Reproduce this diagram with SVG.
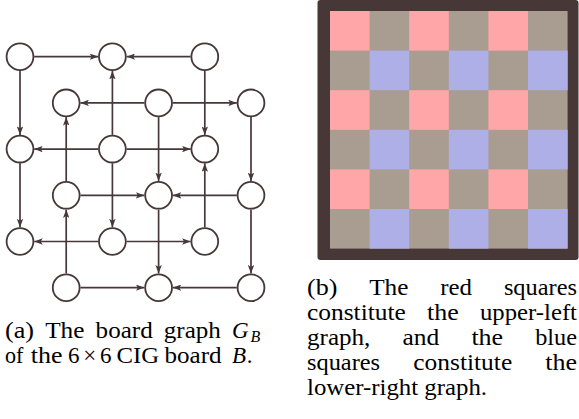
<svg xmlns="http://www.w3.org/2000/svg" width="579" height="419" viewBox="0 0 579 419">
<defs>
<style>
.t{font-family:"Liberation Serif","Times New Roman",serif;font-size:23px;fill:#000}
.m{font-style:italic}
.c{text-anchor:middle}
.node circle{fill:#fff;stroke:#463838;stroke-width:1.8}
#edges path{stroke:#463838;stroke-width:1.7;fill:none;marker-end:url(#ah)}
.pk{fill:#ffa6a8}
.bl{fill:#afafe7}
</style>
<marker id="ah" markerUnits="userSpaceOnUse" markerWidth="8.5" markerHeight="6.4" viewBox="0 0 8.5 6.4" refX="8.5" refY="3.2" orient="auto">
<path d="M0,0 L8.5,3.2 L0,6.4 L1.9,3.2 Z" fill="#463838"/>
</marker>
</defs>
<rect width="579" height="419" fill="#fff"/>

<g id="edges">
<path d="M34.2,56.7 H98.2"/>
<path d="M190.6,56.7 H126.6"/>
<path d="M20,70.9 V134.9"/>
<path d="M112.4,134.9 V70.9"/>
<path d="M204.8,70.9 V134.9"/>
<path d="M144.4,102.9 H80.4"/>
<path d="M172.8,102.9 H236.8"/>
<path d="M66.2,181.1 V117.1"/>
<path d="M158.6,117.1 V181.1"/>
<path d="M251,117.1 V181.1"/>
<path d="M98.2,149.1 H34.2"/>
<path d="M126.6,149.1 H190.6"/>
<path d="M20,163.3 V227.3"/>
<path d="M112.4,163.3 V227.3"/>
<path d="M204.8,227.3 V163.3"/>
<path d="M80.4,195.3 H144.4"/>
<path d="M236.8,195.3 H172.8"/>
<path d="M158.6,209.5 V273.5"/>
<path d="M251,209.5 V273.5"/>
<path d="M98.2,241.5 H34.2"/>
<path d="M126.6,241.5 H190.6"/>
<path d="M80.4,287.7 H144.4"/>
<path d="M236.8,287.7 H172.8"/>
<path d="M66.2,273.5 V209.5"/>
</g>

<g id="n00" class="node"><circle cx="20" cy="56.7" r="13.4"/></g>
<g id="n20" class="node"><circle cx="112.4" cy="56.7" r="13.4"/></g>
<g id="n40" class="node"><circle cx="204.8" cy="56.7" r="13.4"/></g>
<g id="n11" class="node"><circle cx="66.2" cy="102.9" r="13.4"/></g>
<g id="n31" class="node"><circle cx="158.6" cy="102.9" r="13.4"/></g>
<g id="n51" class="node"><circle cx="251" cy="102.9" r="13.4"/></g>
<g id="n02" class="node"><circle cx="20" cy="149.1" r="13.4"/></g>
<g id="n22" class="node"><circle cx="112.4" cy="149.1" r="13.4"/></g>
<g id="n42" class="node"><circle cx="204.8" cy="149.1" r="13.4"/></g>
<g id="n13" class="node"><circle cx="66.2" cy="195.3" r="13.4"/></g>
<g id="n33" class="node"><circle cx="158.6" cy="195.3" r="13.4"/></g>
<g id="n53" class="node"><circle cx="251" cy="195.3" r="13.4"/></g>
<g id="n04" class="node"><circle cx="20" cy="241.5" r="13.4"/></g>
<g id="n24" class="node"><circle cx="112.4" cy="241.5" r="13.4"/></g>
<g id="n44" class="node"><circle cx="204.8" cy="241.5" r="13.4"/></g>
<g id="n15" class="node"><circle cx="66.2" cy="287.7" r="13.4"/></g>
<g id="n35" class="node"><circle cx="158.6" cy="287.7" r="13.4"/></g>
<g id="n55" class="node"><circle cx="251" cy="287.7" r="13.4"/></g>

<g id="board">
<rect x="317.5" y="0" width="261" height="260" rx="3" fill="#473737"/>
<rect x="330" y="11" width="237.6" height="237.6" fill="#a99d91"/>
<rect class="pk" x="330" y="11" width="39.6" height="39.6"/>
<rect class="pk" x="409.2" y="11" width="39.6" height="39.6"/>
<rect class="pk" x="488.4" y="11" width="39.6" height="39.6"/>
<rect class="pk" x="330" y="90.2" width="39.6" height="39.6"/>
<rect class="pk" x="409.2" y="90.2" width="39.6" height="39.6"/>
<rect class="pk" x="488.4" y="90.2" width="39.6" height="39.6"/>
<rect class="pk" x="330" y="169.4" width="39.6" height="39.6"/>
<rect class="pk" x="409.2" y="169.4" width="39.6" height="39.6"/>
<rect class="pk" x="488.4" y="169.4" width="39.6" height="39.6"/>
<rect class="bl" x="369.6" y="50.6" width="39.6" height="39.6"/>
<rect class="bl" x="448.8" y="50.6" width="39.6" height="39.6"/>
<rect class="bl" x="528" y="50.6" width="39.6" height="39.6"/>
<rect class="bl" x="369.6" y="129.8" width="39.6" height="39.6"/>
<rect class="bl" x="448.8" y="129.8" width="39.6" height="39.6"/>
<rect class="bl" x="528" y="129.8" width="39.6" height="39.6"/>
<rect class="bl" x="369.6" y="209" width="39.6" height="39.6"/>
<rect class="bl" x="448.8" y="209" width="39.6" height="39.6"/>
<rect class="bl" x="528" y="209" width="39.6" height="39.6"/>
</g>

<g id="caption-a" class="t">
<text x="5" y="338" textLength="29.1" lengthAdjust="spacingAndGlyphs">(a)</text>
<text x="45.2" y="338" textLength="39.3" lengthAdjust="spacingAndGlyphs">The</text>
<text x="95.6" y="338" textLength="57.1" lengthAdjust="spacingAndGlyphs">board</text>
<text x="163.8" y="338" textLength="57.1" lengthAdjust="spacingAndGlyphs">graph</text>
<text class="m" x="232" y="338">G</text>
<text class="m" x="250.5" y="341.5" font-size="16">B</text>
<text x="5" y="363" textLength="18.4" lengthAdjust="spacingAndGlyphs">of</text>
<text x="30.8" y="363" textLength="31.7" lengthAdjust="spacingAndGlyphs">the</text>
<text x="68" y="363">6</text>
<text class="c" x="89.8" y="363">×</text>
<text x="100" y="363">6</text>
<text x="116.5" y="363" textLength="42.6" lengthAdjust="spacingAndGlyphs">CIG</text>
<text x="164.5" y="363" textLength="57.1" lengthAdjust="spacingAndGlyphs">board</text>
<text class="m" x="232" y="363">B</text>
<text x="246.8" y="363">.</text>
</g>

<g id="caption-b" class="t">
<text x="307" y="295" textLength="30.4" lengthAdjust="spacingAndGlyphs">(b)</text>
<text x="369.2" y="295" textLength="39.3" lengthAdjust="spacingAndGlyphs">The</text>
<text x="440.3" y="295" textLength="31.7" lengthAdjust="spacingAndGlyphs">red</text>
<text x="503.9" y="295" textLength="73.1" lengthAdjust="spacingAndGlyphs">squares</text>
<text x="307" y="320" textLength="98.9" lengthAdjust="spacingAndGlyphs">constitute</text>
<text x="427.1" y="320" textLength="31.7" lengthAdjust="spacingAndGlyphs">the</text>
<text x="480" y="320" textLength="97" lengthAdjust="spacingAndGlyphs">upper-left</text>
<text x="307" y="345" textLength="63.4" lengthAdjust="spacingAndGlyphs">graph,</text>
<text x="402.5" y="345" textLength="36.8" lengthAdjust="spacingAndGlyphs">and</text>
<text x="471.4" y="345" textLength="31.7" lengthAdjust="spacingAndGlyphs">the</text>
<text x="535.2" y="345" textLength="41.8" lengthAdjust="spacingAndGlyphs">blue</text>
<text x="307" y="370" textLength="73.1" lengthAdjust="spacingAndGlyphs">squares</text>
<text x="413.3" y="370" textLength="98.9" lengthAdjust="spacingAndGlyphs">constitute</text>
<text x="545.3" y="370" textLength="31.7" lengthAdjust="spacingAndGlyphs">the</text>
<text x="307" y="395" textLength="180" lengthAdjust="spacingAndGlyphs">lower-right graph.</text>
</g>
</svg>
